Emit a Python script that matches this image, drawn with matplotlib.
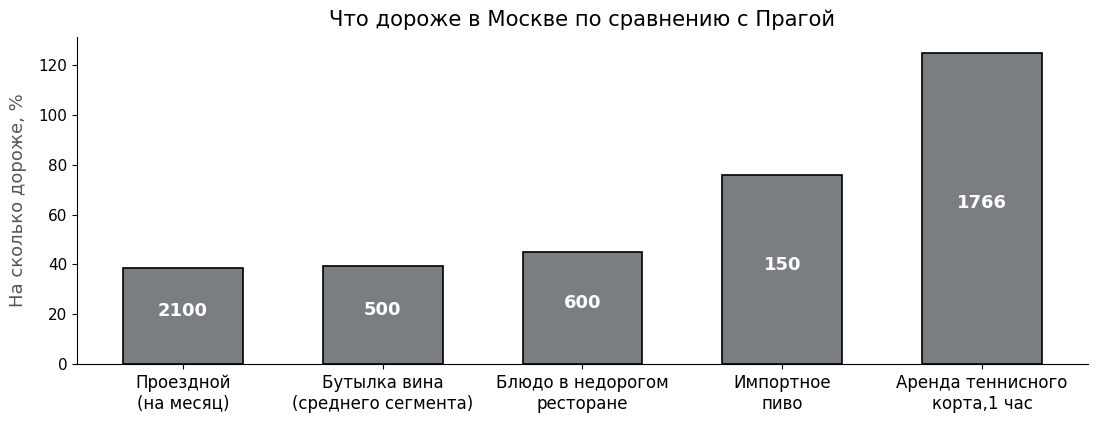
import matplotlib
matplotlib.use("Agg")
import matplotlib.pyplot as plt

categories = ['Проездной\n(на месяц)', 'Бутылка вина\n(среднего сегмента)', 'Блюдо в недорогом\nресторане',
              'Импортное\nпиво', 'Аренда теннисного\nкорта,1 час']
percent_more = [38.5, 39.5, 45, 75.8, 125]
bar_labels = ['2100', '500', '600', '150', '1766']

fig = plt.figure(figsize=(11, 4.22), dpi=100)
ax = fig.add_axes([0.07, 0.1374, 0.919, 0.775])

x = range(len(categories))
bars = ax.bar(x, percent_more, width=0.6, color='#7b7e81', edgecolor='black', linewidth=1.2)

# подписи внутри столбцов, чуть выше середины
for b, lab in zip(bars, bar_labels):
    ax.annotate(lab, (b.get_x() + b.get_width() / 2, b.get_height() / 2),
                xytext=(0, 3.5), textcoords='offset points',
                ha='center', va='center', color='white', fontweight='bold', fontsize=13)

ax.set_xticks(list(x))
ax.set_xticklabels(categories, fontsize=12)
ax.tick_params(axis='y', labelsize=11)
ax.set_ylabel('На сколько дороже, %', fontsize=13, color='#555555', labelpad=8)
ax.set_title('Что дороже в Москве по сравнению с Прагой', fontsize=15.2, pad=8)
ax.spines['top'].set_visible(False)
ax.spines['right'].set_visible(False)

plt.savefig('out.png', dpi=100)
